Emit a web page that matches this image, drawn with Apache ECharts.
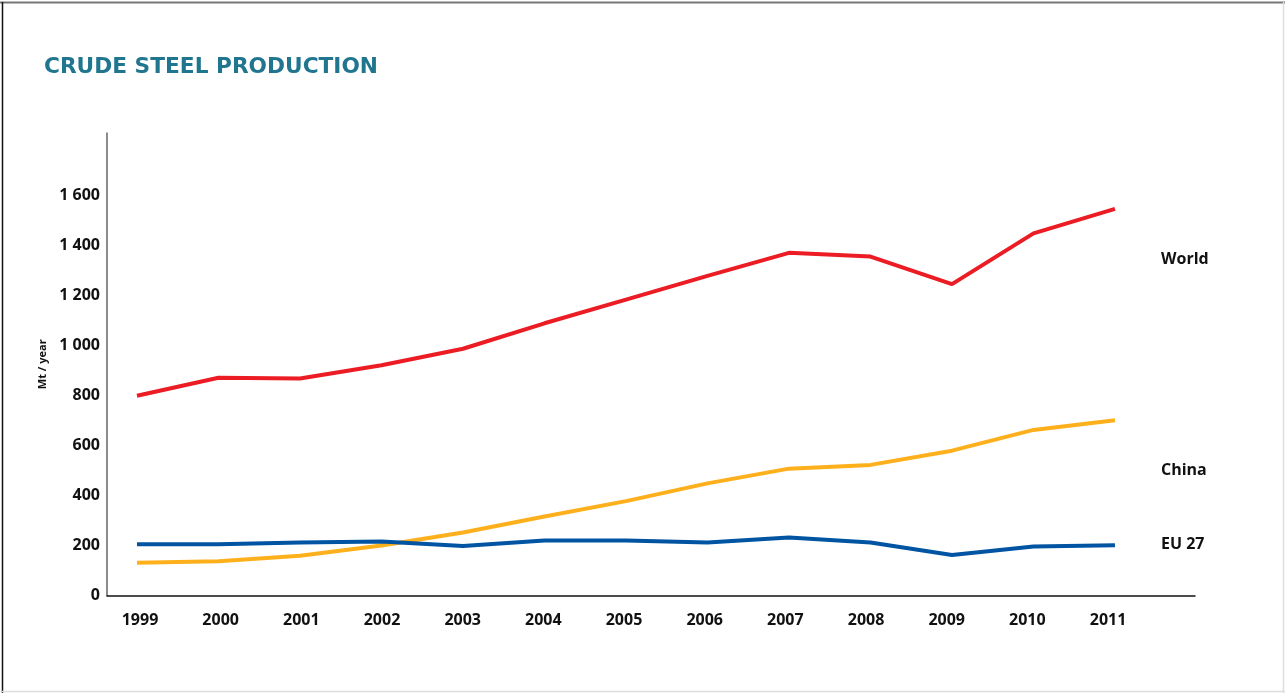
<!DOCTYPE html>
<html>
<head>
<meta charset="utf-8">
<script src="https://cdn.jsdelivr.net/npm/echarts@6/dist/echarts.min.js"></script>
<style>
html,body{margin:0;padding:0;background:#fff;}
#chart{width:1285px;height:693px;}
</style>
</head>
<body>
<div id="chart"></div>
<script>
const years = [1999,2000,2001,2002,2003,2004,2005,2006,2007,2008,2009,2010,2011];
const world = [800,872,869,922,988,1090,1185,1280,1372,1357,1247,1450,1548];
const china = [131,137,159,200,252,316,378,449,508,523,580,663,702];
const eu27  = [205,205,212,216,198,220,220,212,232,212,162,196,201];
const yTicks = [0,200,400,600,800,1000,1200,1400,1600];
const seriesNames = ['World','China','EU 27'];

function fmt(v){ return String(v).replace(/\B(?=(\d{3})+(?!\d))/g,' '); }
function pairs(arr){ return years.map((y,i)=>[y,arr[i]]); }

const chart = echarts.init(document.getElementById('chart'), null, {renderer:'canvas'});
const labelFont = '"Open Sans", "Noto Sans", sans-serif';
chart.setOption({
  animation:false,
  backgroundColor:'#fff',
  title:{
    text:'CRUDE STEEL PRODUCTION',
    left:39, top:51,
    textStyle:{fontFamily:'"DejaVu Sans", sans-serif', fontWeight:'bold', fontSize:21.7, color:'#21768f'}
  },
  grid:{left:107, right:90, top:133, bottom:97.5, containLabel:false},
  xAxis:[
    {type:'value', min:1998.632, max:2011.982, axisLine:{show:false}, axisTick:{show:false},
     axisLabel:{show:false}, splitLine:{show:false}},
    {type:'value', min:1998.591, max:2012.078, position:'bottom',
     axisLine:{show:true, onZero:false, lineStyle:{color:'#111', width:1.5}},
     axisTick:{show:false}, splitLine:{show:false},
     axisLabel:{customValues:years, formatter:v=>String(Math.round(v)), margin:17,
       fontFamily:labelFont, fontWeight:'bold', fontSize:16, color:'#111'}}
  ],
  yAxis:{type:'value', min:0, max:1852,
    name:'Mt / year', nameLocation:'middle', nameGap:58, nameRotate:90,
    nameTextStyle:{fontFamily:labelFont, fontWeight:'bold', fontSize:11, color:'#111'},
    axisLine:{show:true, lineStyle:{color:'#666', width:1.5}},
    axisTick:{show:false}, splitLine:{show:false},
    axisLabel:{customValues:yTicks, formatter:v=>fmt(v), margin:7,
      fontFamily:labelFont, fontWeight:'bold', fontSize:16, color:'#111'}},
  series:[
    {name:seriesNames[0], type:'line', xAxisIndex:0, data:pairs(world), symbol:'none',
     lineStyle:{color:'#ec1c24', width:4}},
    {name:seriesNames[1], type:'line', xAxisIndex:0, data:pairs(china), symbol:'none',
     lineStyle:{color:'#fdb01c', width:4}},
    {name:seriesNames[2], type:'line', xAxisIndex:0, data:pairs(eu27), symbol:'none',
     lineStyle:{color:'#0054a2', width:4}}
  ],
  graphic:[
    {type:'line', shape:{x1:0,y1:2.5,x2:1285,y2:2.5}, style:{stroke:'#777', lineWidth:2}},
    {type:'line', shape:{x1:2.5,y1:2,x2:2.5,y2:693}, style:{stroke:'#111', lineWidth:1.5}},
    {type:'line', shape:{x1:1283.5,y1:2,x2:1283.5,y2:693}, style:{stroke:'#ddd', lineWidth:1.5}},
    {type:'line', shape:{x1:2,y1:691.5,x2:1285,y2:691.5}, style:{stroke:'#ddd', lineWidth:1.5}},
    {type:'text', left:1161, top:251, style:{text:seriesNames[0], font:'bold 16px "Open Sans", sans-serif', fill:'#111'}},
    {type:'text', left:1161, top:462, style:{text:seriesNames[1], font:'bold 16px "Open Sans", sans-serif', fill:'#111'}},
    {type:'text', left:1161, top:536, style:{text:seriesNames[2], font:'bold 16px "Open Sans", sans-serif', fill:'#111'}}
  ]
});
</script>
</body>
</html>
